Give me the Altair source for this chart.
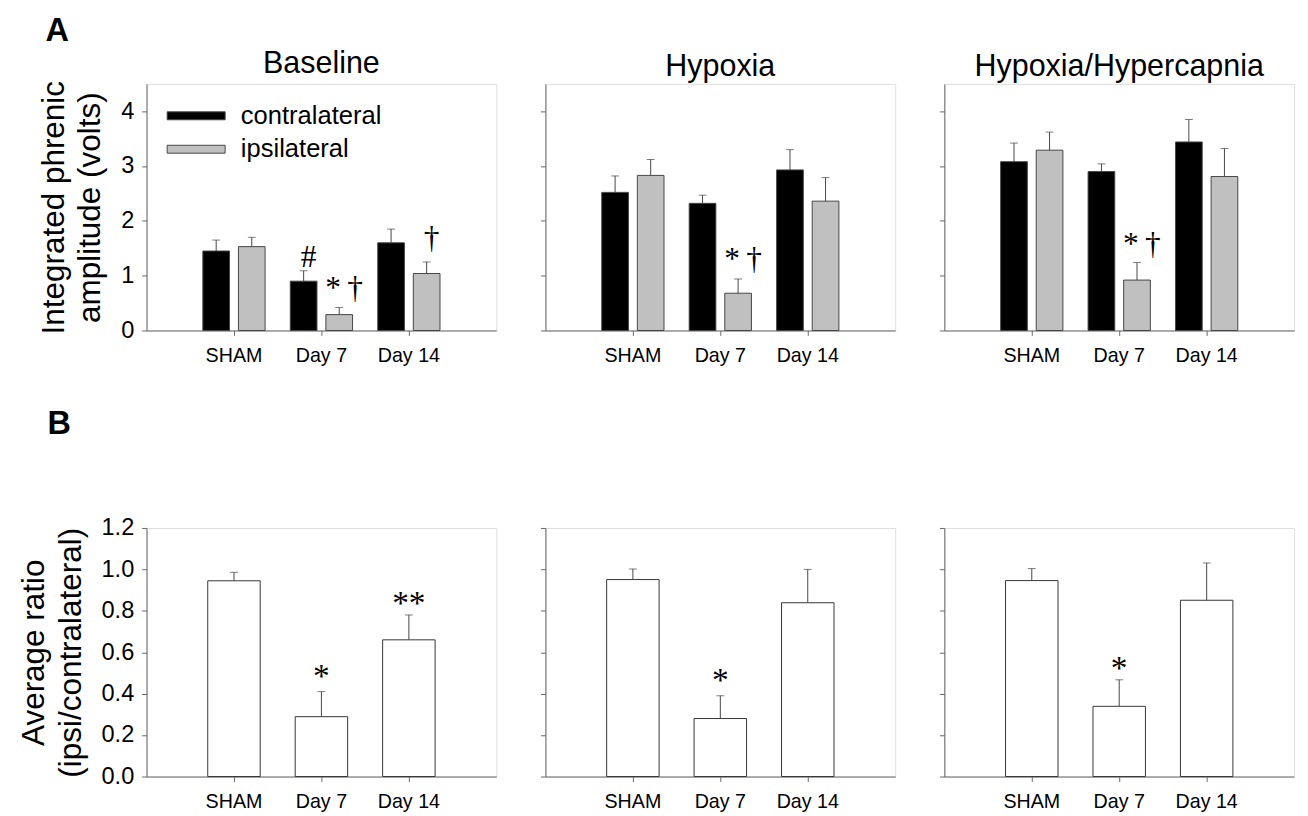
import altair as alt
import pandas as pd

groups = ["SHAM", "Day 7", "Day 14"]
sides = ["contralateral", "ipsilateral"]
conditions = ["Baseline", "Hypoxia", "Hypoxia/Hypercapnia"]

# Panel A: integrated phrenic amplitude (volts), mean and SEM
baseline_contra = [1.45, 0.90, 1.60]
baseline_contra_sem = [0.20, 0.19, 0.25]
baseline_ipsi = [1.53, 0.29, 1.04]
baseline_ipsi_sem = [0.17, 0.13, 0.21]

hypoxia_contra = [2.52, 2.32, 2.93]
hypoxia_contra_sem = [0.30, 0.15, 0.37]
hypoxia_ipsi = [2.83, 0.68, 2.36]
hypoxia_ipsi_sem = [0.29, 0.26, 0.43]

hyper_contra = [3.08, 2.90, 3.44]
hyper_contra_sem = [0.34, 0.14, 0.41]
hyper_ipsi = [3.29, 0.92, 2.81]
hyper_ipsi_sem = [0.33, 0.32, 0.51]

# Panel B: average ratio ipsi/contralateral, mean and SEM
baseline_ratio = [0.945, 0.289, 0.66]
baseline_ratio_sem = [0.041, 0.121, 0.12]
hypoxia_ratio = [0.951, 0.28, 0.839]
hypoxia_ratio_sem = [0.051, 0.11, 0.161]
hyper_ratio = [0.946, 0.339, 0.851]
hyper_ratio_sem = [0.058, 0.128, 0.18]

# significance marks
a_note_cond = ["Baseline", "Baseline", "Baseline", "Hypoxia", "Hypoxia/Hypercapnia"]
a_note_group = ["Day 7", "Day 7", "Day 14", "Day 7", "Day 7"]
a_note_side = ["contralateral", "ipsilateral", "ipsilateral", "ipsilateral", "ipsilateral"]
a_note_text = ["#", "*\u2009†", "†", "*\u2009†", "*\u2009†"]
a_note_y = [1.34, 0.77, 1.68, 1.30, 1.57]

b_note_cond = ["Baseline", "Baseline", "Hypoxia", "Hypoxia/Hypercapnia"]
b_note_group = ["Day 7", "Day 14", "Day 7", "Day 7"]
b_note_text = ["*", "**", "*", "*"]
b_note_y = [0.48, 0.83, 0.46, 0.52]

FONT = "Liberation Sans"
SERIF = "Liberation Serif"
W = 356
H_TOP = 251
H_BOT = 253
EDGE = "#444444"

x_scale = alt.Scale(domain=groups, paddingInner=0, paddingOuter=0.5)
x_axis = alt.Axis(title=None, labelAngle=0, labelFontSize=20, labelFont=FONT, tickSize=5,
                  labelPadding=11, labelColor="black", domainColor="#666666", tickColor="#666666")


def y_axis(first, values, title, fmt=None):
    kw = dict(values=values, tickSize=5, grid=False, domainColor="#666666", tickColor="#666666")
    if first:
        kw.update(labelFontSize=24, labelFont=FONT, labelColor="black", labelPadding=8,
                  title=title, titleFontSize=32, titleFont=FONT, titleFontWeight="normal",
                  titleColor="black", titleLineHeight=37, titlePadding=14)
        if fmt:
            kw["format"] = fmt
    else:
        kw.update(labels=False, title=None)
    return alt.Axis(**kw)


def top_panel(cond, contra, contra_sem, ipsi, ipsi_sem, first):
    rows = []
    for g, m, s in zip(groups, contra, contra_sem):
        rows.append({"group": g, "side": "contralateral", "mean": m, "top": m + s})
    for g, m, s in zip(groups, ipsi, ipsi_sem):
        rows.append({"group": g, "side": "ipsilateral", "mean": m, "top": m + s})
    df = pd.DataFrame(rows)
    notes = pd.DataFrame([
        {"group": g, "side": sd, "label": t, "y": yv}
        for c, g, sd, t, yv in zip(a_note_cond, a_note_group, a_note_side, a_note_text, a_note_y)
        if c == cond
    ])
    xenc = alt.X("group:N", sort=groups, scale=x_scale, axis=x_axis)
    xo = alt.XOffset("side:N", sort=sides,
                     scale=alt.Scale(domain=sides, paddingInner=0.25, paddingOuter=0.354))
    ys = alt.Scale(domain=[0, 4.5], nice=False)
    yax = y_axis(first, [0, 1, 2, 3, 4], ["Integrated phrenic", "amplitude (volts)"])
    if first:
        leg = alt.Legend(orient="none", legendX=37, legendY=19, title=None,
                         symbolType="M-2.27,-0.31H2.27V0.31H-2.27Z", symbolSize=676,
                         labelFontSize=26, labelFont=FONT, labelColor="black",
                         symbolStrokeColor=EDGE, symbolStrokeWidth=1, symbolOpacity=1,
                         rowPadding=7, labelOffset=32, padding=0)
    else:
        leg = None
    color = alt.Color("side:N", sort=sides,
                      scale=alt.Scale(domain=sides, range=["#000000", "#c0c0c0"]), legend=leg)
    bars = alt.Chart(df).mark_bar(stroke=EDGE, strokeWidth=1).encode(
        x=xenc, xOffset=xo, y=alt.Y("mean:Q", scale=ys, axis=yax), color=color)
    err = alt.Chart(df).mark_rule(color=EDGE, strokeWidth=1).encode(
        x=xenc, xOffset=xo, y=alt.Y("mean:Q", scale=ys, axis=yax), y2="top:Q")
    cap = alt.Chart(df).mark_tick(color=EDGE, size=8, thickness=1).encode(
        x=xenc, xOffset=xo, y=alt.Y("top:Q", scale=ys, axis=yax))
    txt = alt.Chart(notes).mark_text(font=SERIF, fontSize=32, baseline="middle", dx=5,
                                     color="black").encode(
        x=xenc, xOffset=xo, y=alt.Y("y:Q", scale=ys, axis=yax), text="label:N")
    return alt.layer(bars, err, cap, txt).properties(
        width=W, height=H_TOP,
        title=alt.TitleParams(cond, fontSize=31, font=FONT, fontWeight="normal",
                              color="black", offset=1))


def bottom_panel(cond, vals, sems, first):
    df = pd.DataFrame({"group": groups, "ratio": vals,
                       "top": [v + s for v, s in zip(vals, sems)]})
    notes = pd.DataFrame([
        {"group": g, "label": t, "y": yv}
        for c, g, t, yv in zip(b_note_cond, b_note_group, b_note_text, b_note_y)
        if c == cond
    ])
    xenc = alt.X("group:N", sort=groups, scale=x_scale, axis=x_axis)
    ys = alt.Scale(domain=[0, 1.2], nice=False)
    yax = y_axis(first, [0, 0.2, 0.4, 0.6, 0.8, 1.0, 1.2],
                 ["Average ratio", "(ipsi/contralateral)"], fmt=".1f")
    bars = alt.Chart(df).mark_bar(fill="white", stroke="#333333", strokeWidth=1,
                                  width=alt.RelativeBandSize(0.6)).encode(
        x=xenc, y=alt.Y("ratio:Q", scale=ys, axis=yax))
    err = alt.Chart(df).mark_rule(color=EDGE, strokeWidth=1).encode(
        x=xenc, y=alt.Y("ratio:Q", scale=ys, axis=yax), y2="top:Q")
    cap = alt.Chart(df).mark_tick(color=EDGE, size=8, thickness=1).encode(
        x=xenc, y=alt.Y("top:Q", scale=ys, axis=yax))
    txt = alt.Chart(notes).mark_text(font=SERIF, fontSize=34, baseline="middle",
                                     color="black").encode(
        x=xenc, y=alt.Y("y:Q", scale=ys, axis=yax), text="label:N")
    return alt.layer(bars, err, cap, txt).properties(width=W, height=H_BOT)


row_a = alt.hconcat(
    top_panel("Baseline", baseline_contra, baseline_contra_sem, baseline_ipsi, baseline_ipsi_sem, True),
    top_panel("Hypoxia", hypoxia_contra, hypoxia_contra_sem, hypoxia_ipsi, hypoxia_ipsi_sem, False),
    top_panel("Hypoxia/Hypercapnia", hyper_contra, hyper_contra_sem, hyper_ipsi, hyper_ipsi_sem, False),
    spacing=43,
).resolve_legend(color="independent").properties(
    title=alt.TitleParams("A", anchor="start", fontSize=33, font=FONT, fontWeight="bold",
                          color="black", offset=0, dx=8))

row_b = alt.hconcat(
    bottom_panel("Baseline", baseline_ratio, baseline_ratio_sem, True),
    bottom_panel("Hypoxia", hypoxia_ratio, hypoxia_ratio_sem, False),
    bottom_panel("Hypoxia/Hypercapnia", hyper_ratio, hyper_ratio_sem, False),
    spacing=43,
).properties(
    title=alt.TitleParams("B", anchor="start", fontSize=33, font=FONT, fontWeight="bold",
                          color="black", offset=76, dx=30))

chart = alt.vconcat(row_a, row_b, spacing=42).properties(
    padding={"left": 10, "top": 0, "right": 5, "bottom": 0}
).configure_view(stroke=None).configure(font=FONT)

chart.save("out.html", embed_options={"renderer": "svg", "actions": False})
